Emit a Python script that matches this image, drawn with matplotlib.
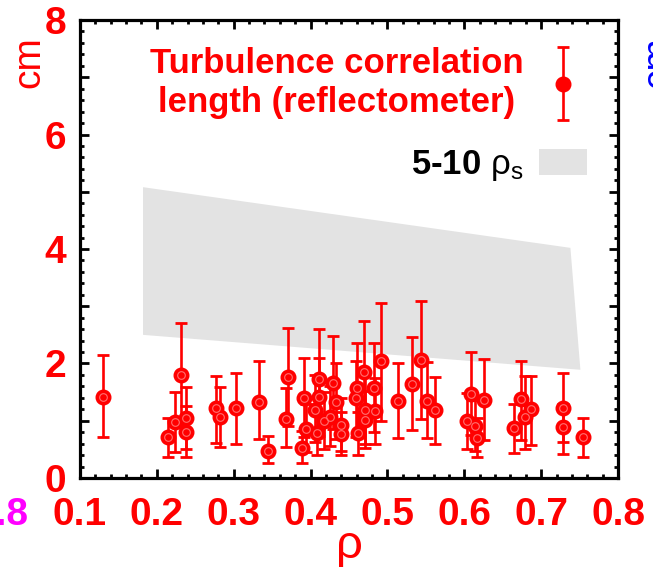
import matplotlib
matplotlib.use("Agg")
import matplotlib.pyplot as plt
import numpy as np
from matplotlib import font_manager
from matplotlib.patches import Polygon
from matplotlib.ticker import MultipleLocator, FuncFormatter
from matplotlib.legend_handler import HandlerErrorbar

# turbulence correlation length (reflectometer)
rho = [0.130, 0.215, 0.223, 0.232, 0.238, 0.238, 0.277, 0.282, 0.303, 0.333,
       0.345, 0.370, 0.368, 0.389, 0.391, 0.394, 0.406, 0.411, 0.411, 0.408,
       0.417, 0.425, 0.429, 0.433, 0.440, 0.440, 0.462, 0.460, 0.459, 0.469,
       0.471, 0.471, 0.482, 0.484, 0.492, 0.514, 0.532, 0.544, 0.551, 0.562,
       0.603, 0.609, 0.614, 0.617, 0.626, 0.665, 0.674, 0.679, 0.687, 0.728,
       0.729, 0.754]
lc = [1.41, 0.72, 0.98, 1.80, 1.04, 0.81, 1.22, 1.07, 1.22, 1.33,
      0.48, 1.76, 1.03, 0.53, 1.39, 0.86, 1.19, 1.73, 1.42, 0.78,
      0.99, 1.07, 1.66, 1.33, 0.93, 0.76, 0.78, 1.57, 1.39, 1.85,
      1.19, 1.01, 1.57, 1.17, 2.05, 1.34, 1.65, 2.06, 1.34, 1.18,
      0.99, 1.47, 0.91, 0.70, 1.36, 0.88, 1.38, 1.06, 1.20, 1.23,
      0.89, 0.71]
lc_lo = [0.72, 0.37, 0.45, 0.90, 0.50, 0.37, 0.61, 0.54, 0.59, 0.68,
         0.26, 0.90, 0.54, 0.26, 0.72, 0.45, 0.62, 0.85, 0.74, 0.40,
         0.50, 0.55, 0.85, 0.68, 0.48, 0.40, 0.40, 0.80, 0.72, 0.95,
         0.60, 0.52, 0.80, 0.60, 1.00, 0.69, 0.84, 1.03, 0.69, 0.60,
         0.50, 0.75, 0.47, 0.37, 0.66, 0.43, 0.66, 0.50, 0.58, 0.62,
         0.42, 0.36]
lc_hi = [2.15, 1.05, 1.51, 2.70, 1.59, 1.25, 1.78, 1.59, 1.83, 2.04,
         0.73, 2.62, 1.57, 0.82, 2.10, 1.30, 1.80, 2.61, 2.10, 1.15,
         1.50, 1.60, 2.48, 2.00, 1.40, 1.15, 1.15, 2.35, 2.05, 2.75,
         1.80, 1.52, 2.35, 1.75, 3.05, 2.01, 2.47, 3.09, 2.02, 1.77,
         1.48, 2.20, 1.37, 1.05, 2.07, 1.30, 2.05, 1.78, 1.78, 1.83,
         1.30, 1.05]

# 5-10 rho_s band (outline)
band_rho = [0.182, 0.738, 0.751, 0.182]
band_cm = [5.08, 4.02, 1.89, 2.50]

names = {f.name for f in font_manager.fontManager.ttflist}
if "Liberation Sans Narrow" in names:
    FONT = "Liberation Sans Narrow"
elif "Liberation Sans" in names:
    FONT = "Liberation Sans"
else:
    FONT = "DejaVu Sans"
plt.rcParams["font.family"] = [FONT, "DejaVu Sans"]
plt.rcParams["mathtext.fontset"] = "custom"
plt.rcParams["mathtext.rm"] = FONT

RED = "#ff0000"

fig = plt.figure(figsize=(6.53, 5.67), dpi=100)
ax = fig.add_axes([0.1225, 0.157, 0.824, 0.8077])

band = Polygon(np.column_stack([band_rho, band_cm]), closed=True,
               facecolor="#e3e3e3", edgecolor="none", zorder=1,
               label="5-10 $\\mathrm{ρ_s}$")
ax.add_patch(band)

lc = np.array(lc)
yerr = [lc - np.array(lc_lo), np.array(lc_hi) - lc]
eb = ax.errorbar(rho, lc, yerr=yerr, fmt="o", color=RED, ms=10.5,
                 mec=RED, elinewidth=1.9, capsize=4.5, capthick=2.0,
                 zorder=3,
                 label="Turbulence correlation\nlength (reflectometer)")
# lighter inner ring of the plot symbol
ax.plot(rho, lc, "o", ms=5.5, mfc="none", mec="#ff7070", mew=0.8, zorder=4)

ax.set_xlim(0.1, 0.8)
ax.set_ylim(0, 8)
ax.xaxis.set_major_locator(MultipleLocator(0.1))
ax.xaxis.set_minor_locator(MultipleLocator(0.02))
ax.yaxis.set_major_locator(MultipleLocator(1))
ax.yaxis.set_minor_locator(MultipleLocator(0.2))
ax.xaxis.set_major_formatter(FuncFormatter(lambda v, p: f"{v:.1f}"))
ax.yaxis.set_major_formatter(
    FuncFormatter(lambda v, p: f"{v:.0f}" if round(v) % 2 == 0 else ""))

for s in ax.spines.values():
    s.set_linewidth(2.3)
ax.tick_params(which="both", direction="in", top=True, right=True,
               width=2.0, colors="black", labelcolor=RED)
ax.tick_params(which="major", length=6.5)
ax.tick_params(which="minor", length=3)
ax.tick_params(axis="x", which="major", pad=14, labelsize=28)
ax.tick_params(axis="y", which="major", pad=10, labelsize=28)
for lab in ax.get_xticklabels() + ax.get_yticklabels():
    lab.set_fontweight("bold")

ax.set_xlabel("ρ", color=RED, fontsize=34, labelpad=-7)

fig.text(0.045, 0.89, "cm", color=RED, fontsize=28, rotation=90,
         ha="center", va="center")
fig.text(640 / 653, 0.89, "cm", color="blue", fontsize=28, rotation=90,
         ha="left", va="center")
fig.text(29 / 653, 1 - 515 / 567, "0.8", color="magenta", fontsize=28,
         fontweight="bold", ha="right", va="center")

leg = ax.legend(handles=[eb, band], markerfirst=False, frameon=False,
                loc="upper right", bbox_to_anchor=(0.943, 0.94),
                borderpad=0, borderaxespad=0, handlelength=1.4,
                handleheight=0.75, handletextpad=0.45, labelspacing=0.85,
                labelcolor=[RED, "black"],
                prop=dict(size=25, weight="bold"),
                handler_map={type(eb): HandlerErrorbar(yerr_size=1.05)})
leg.get_texts()[0].set_multialignment("center")

fig.savefig("out.png", dpi=100)
